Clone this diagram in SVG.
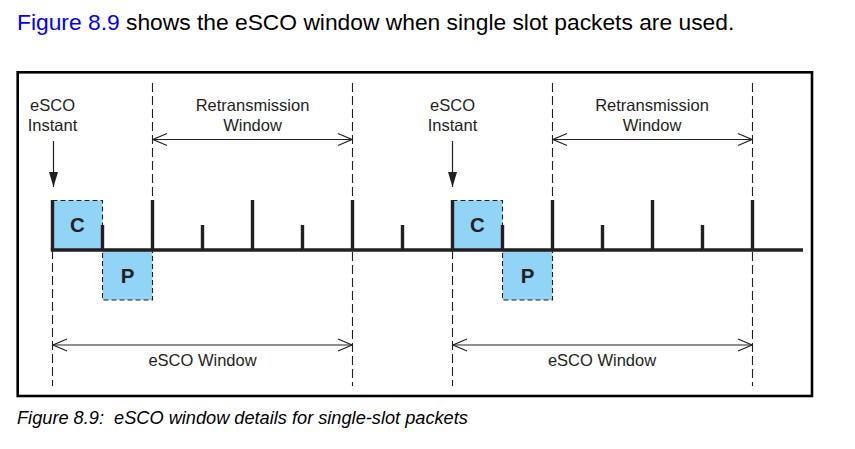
<svg xmlns="http://www.w3.org/2000/svg" width="855" height="449" viewBox="0 0 855 449">
<defs>
<style>
.t{font-family:"Liberation Sans",Arial,sans-serif;fill:#231F20;}
.lbl{font-size:16.5px;text-anchor:middle;}
.pk{font-size:20.5px;font-weight:bold;text-anchor:middle;}
.dash{stroke:#231F20;stroke-width:1.1;stroke-dasharray:9,4;fill:none;}
.tick{stroke:#231F20;stroke-width:3.4;fill:none;}
.dim{stroke:#231F20;stroke-width:1.1;fill:none;marker-start:url(#open);marker-end:url(#open);}
.inst{stroke:#231F20;stroke-width:1.2;fill:none;marker-end:url(#solid);}
.box{fill:#92D4F6;stroke:#231F20;stroke-width:1.1;stroke-dasharray:5,3;}
</style>
<marker id="open" markerUnits="userSpaceOnUse" markerWidth="16" markerHeight="14" refX="15" refY="7" orient="auto-start-reverse" viewBox="0 0 16 14">
<path d="M1,1 L15,7 L1,13" fill="none" stroke="#231F20" stroke-width="1.1"/>
</marker>
<marker id="solid" markerUnits="userSpaceOnUse" markerWidth="16" markerHeight="10" refX="15" refY="5" orient="auto" viewBox="0 0 16 10">
<path d="M0,0.5 L15,5 L0,9.5 Z" fill="#231F20"/>
</marker>
</defs>
<rect width="855" height="449" fill="#FFFFFF"/>
<text x="17" y="30" font-family="Liberation Sans, Arial, sans-serif" font-size="22.8" fill="#000000"><tspan fill="#0000FF">Figure 8.9</tspan> shows the eSCO window when single slot packets are used.</text>
<rect x="17.7" y="72.3" width="794.3" height="323.7" fill="none" stroke="#000000" stroke-width="2.6"/>
<g id="packet-c1"><rect class="box" x="52.5" y="200.5" width="50" height="49.5"/><text class="t pk" x="77.5" y="231.5">C</text></g>
<g id="packet-p1"><rect class="box" x="102.5" y="250" width="50" height="50"/><text class="t pk" x="127.5" y="282.5">P</text></g>
<g id="packet-c2"><rect class="box" x="452.5" y="200.5" width="50" height="49.5"/><text class="t pk" x="477.5" y="231.5">C</text></g>
<g id="packet-p2"><rect class="box" x="502.5" y="250" width="50" height="50"/><text class="t pk" x="527.5" y="282.5">P</text></g>
<g id="guides">
<line class="dash" x1="52.5" y1="250" x2="52.5" y2="386"/>
<line class="dash" x1="152.5" y1="83" x2="152.5" y2="200"/>
<line class="dash" x1="352.5" y1="83" x2="352.5" y2="386"/>
<line class="dash" x1="452.5" y1="250" x2="452.5" y2="386"/>
<line class="dash" x1="552.5" y1="83" x2="552.5" y2="200"/>
<line class="dash" x1="752.5" y1="83" x2="752.5" y2="386"/>
</g>
<g id="timeline">
<line class="tick" x1="50.8" y1="250" x2="803" y2="250"/>
<path class="tick" d="M52.5,200V250 M152.5,200V250 M252.5,200V250 M352.5,200V250 M452.5,200V250 M552.5,200V250 M652.5,200V250 M752.5,200V250 M102.5,225V250 M202.5,225V250 M302.5,225V250 M402.5,225V250 M502.5,225V250 M602.5,225V250 M702.5,225V250"/>
</g>
<g id="labels">
<text class="t lbl" x="52.5" y="111">eSCO</text>
<text class="t lbl" x="52.5" y="131">Instant</text>
<text class="t lbl" x="252.5" y="111">Retransmission</text>
<text class="t lbl" x="252.5" y="131">Window</text>
<text class="t lbl" x="452.5" y="111">eSCO</text>
<text class="t lbl" x="452.5" y="131">Instant</text>
<text class="t lbl" x="652" y="111">Retransmission</text>
<text class="t lbl" x="652" y="131">Window</text>
<text class="t lbl" x="202.5" y="365.5">eSCO Window</text>
<text class="t lbl" x="602" y="365.5">eSCO Window</text>
</g>
<g id="connectors">
<line class="inst" x1="53.5" y1="141" x2="53.5" y2="187"/>
<line class="inst" x1="452.5" y1="141" x2="452.5" y2="187"/>
<line class="dim" x1="153" y1="139.5" x2="352" y2="139.5"/>
<line class="dim" x1="553" y1="139.5" x2="752" y2="139.5"/>
<line class="dim" x1="53" y1="345" x2="352" y2="345"/>
<line class="dim" x1="453" y1="345" x2="752" y2="345"/>
</g>
<text x="17" y="424" font-family="Liberation Sans, Arial, sans-serif" font-size="18.2" font-style="italic" fill="#000000" xml:space="preserve">Figure 8.9:  eSCO window details for single-slot packets</text>
</svg>
